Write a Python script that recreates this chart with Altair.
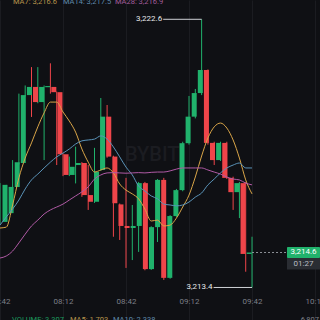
import altair as alt
import pandas as pd

# ---- 3-minute candles, 07:42 .. 09:42 ----
OPEN = [3215.65, 3215.95, 3216.85, 3217.67, 3220.00, 3220.28, 3219.76, 3220.27, 3220.28, 3220.10,
        3217.97, 3217.26, 3217.60, 3217.67, 3216.57, 3216.34, 3217.43, 3219.26, 3217.89, 3216.25,
        3215.51, 3215.44, 3215.51, 3216.98, 3214.03, 3215.47, 3217.09, 3213.73, 3215.85, 3216.74,
        3218.35, 3219.26, 3220.07, 3220.86, 3218.36, 3217.77, 3218.36, 3217.16, 3216.67, 3216.98,
        3214.55]
HIGH = [3216.98, 3216.92, 3217.77, 3220.05, 3220.33, 3220.96, 3220.96, 3220.33, 3221.09, 3220.12,
        3218.00, 3217.89, 3218.23, 3217.70, 3217.60, 3218.19, 3219.90, 3219.66, 3217.92, 3216.28,
        3217.16, 3216.23, 3217.02, 3217.02, 3215.50, 3217.12, 3217.16, 3215.88, 3216.78, 3218.40,
        3219.97, 3220.21, 3222.60, 3220.88, 3218.40, 3218.40, 3218.40, 3217.20, 3217.02, 3217.02,
        3215.14]
LOW = [3215.58, 3215.90, 3216.80, 3217.62, 3219.95, 3219.25, 3219.72, 3217.77, 3220.05, 3217.60,
       3217.22, 3217.22, 3216.97, 3216.51, 3216.06, 3216.30, 3217.40, 3217.85, 3215.14, 3215.03,
       3214.07, 3214.34, 3214.62, 3213.99, 3214.00, 3214.96, 3213.66, 3213.70, 3215.82, 3216.70,
       3218.30, 3219.20, 3220.00, 3218.30, 3217.60, 3217.74, 3217.12, 3216.06, 3215.78, 3213.94,
       3213.40]
CLOSE = [3216.92, 3216.85, 3217.70, 3220.00, 3220.28, 3219.76, 3220.28, 3220.31, 3220.10, 3217.97,
         3217.26, 3217.54, 3217.67, 3216.57, 3216.34, 3217.37, 3219.26, 3217.89, 3216.29, 3215.51,
         3215.44, 3215.51, 3216.98, 3214.03, 3215.47, 3217.09, 3213.73, 3215.85, 3216.74, 3218.35,
         3219.26, 3220.07, 3220.86, 3218.36, 3217.77, 3218.36, 3217.16, 3216.67, 3216.98, 3214.55,
         3214.60]
MA7 = [3215.44, 3215.47, 3216.23, 3217.16, 3217.84, 3218.36, 3218.91, 3219.39, 3219.76, 3219.76,
       3219.42, 3219.11, 3218.73, 3218.15, 3217.70, 3217.36, 3217.43, 3217.50, 3217.33, 3216.95,
       3216.74, 3216.61, 3216.44, 3216.09, 3215.68, 3215.71, 3215.51, 3215.54, 3215.78, 3216.16,
       3216.57, 3217.19, 3217.91, 3218.53, 3218.91, 3219.04, 3218.87, 3218.46, 3217.84, 3217.09,
       3216.61]
MA14 = [3215.54, 3215.82, 3216.09, 3216.40, 3216.78, 3217.09, 3217.29, 3217.50, 3217.70, 3217.88,
        3218.01, 3218.15, 3218.32, 3218.43, 3218.46, 3218.49, 3218.60, 3218.49, 3218.22, 3217.88,
        3217.53, 3217.26, 3216.88, 3216.71, 3216.54, 3216.44, 3216.26, 3216.23, 3216.20, 3216.23,
        3216.33, 3216.50, 3216.64, 3216.92, 3217.12, 3217.33, 3217.50, 3217.60, 3217.67, 3217.50,
        3217.50]
MA28 = [3214.41, 3214.48, 3214.65, 3214.93, 3215.23, 3215.51, 3215.71, 3215.92, 3216.06, 3216.16,
        3216.26, 3216.40, 3216.54, 3216.68, 3216.85, 3217.12, 3217.26, 3217.33, 3217.34, 3217.33,
        3217.32, 3217.33, 3217.34, 3217.33, 3217.35, 3217.36, 3217.36, 3217.40, 3217.46, 3217.50,
        3217.50, 3217.50, 3217.50, 3217.43, 3217.36, 3217.29, 3217.19, 3217.12, 3217.09, 3216.98,
        3216.92]

TIME_LABELS = ["07:42", "08:12", "08:42", "09:12", "09:42", "10:12"]
TIME_TICK_IDX = [0, 10, 20, 30, 40, 50]
PRICE_TICKS = [3213.4, 3215.7, 3218.0, 3220.3, 3222.6]

HEADER = [("MA7: 3,216.6", "#b8954c"), ("MA14: 3,217.5", "#5f8aab"), ("MA28: 3,216.9", "#a45d9b")]
VOLUME_ROW = [("VOLUME: 3.307", "#1c9a5e"), ("MA5: 1.703", "#b8954c"), ("MA10: 2.338", "#5f8aab")]
VOL_AXIS_LABEL = "6,807"
COUNTDOWN = "01:27"

# ---- style ----
BG = "#0f1014"
GRID = "#1b1c21"
GREEN = "#20b26c"
RED = "#ef454a"
LABEL = "#7c7f87"
FONT = "Roboto"

n = len(OPEN)
idx = list(range(n))
candles = pd.DataFrame({"i": idx, "open": OPEN, "high": HIGH, "low": LOW, "close": CLOSE})

xs = alt.Scale(domain=[0, 50.79], nice=False, zero=False)
ys = alt.Scale(domain=[3212.284, 3223.262], nice=False, zero=False)
px = alt.Scale(domain=[0, 320], range=[0, 320])
dir_color = alt.Color("dir:N", scale=alt.Scale(domain=["up", "down"], range=[GREEN, RED]), legend=None)

label_expr = "[" + ",".join("'%s'" % t for t in TIME_LABELS) + "][round(datum.value/10)]"

base = alt.Chart(candles).transform_calculate(
    dir="datum.close >= datum.open ? 'up' : 'down'"
)

wicks = base.mark_rule(strokeWidth=1).encode(
    x=alt.X("i:Q", scale=xs, axis=alt.Axis(
        values=TIME_TICK_IDX, labelExpr=label_expr, grid=True, gridColor=GRID, domain=False,
        ticks=False, tickSize=0, labelPadding=-19, labelBaseline="middle", labelFlush=False,
        labelColor=LABEL, labelFontSize=8, labelFont=FONT, title=None, orient="bottom")),
    y=alt.Y("low:Q", scale=ys, axis=alt.Axis(
        values=PRICE_TICKS, format=",.1f", orient="right", grid=True, gridColor=GRID,
        domain=False, ticks=False, tickSize=0, labelAlign="right", labelPadding=-1,
        labelBaseline="middle", labelFlush=False, labelColor=LABEL, labelFontSize=8,
        labelFont=FONT, title=None)),
    y2="high:Q",
    color=dir_color,
)

bodies = base.mark_bar(size=5).encode(
    x=alt.X("i:Q", scale=xs, axis=None),
    y=alt.Y("open:Q", scale=ys, axis=None),
    y2="close:Q",
    color=dir_color,
)

def ma_line(vals, color):
    df = pd.DataFrame({"i": idx, "v": vals})
    return alt.Chart(df).mark_line(strokeWidth=1, color=color, interpolate="monotone").encode(
        x=alt.X("i:Q", scale=xs, axis=None), y=alt.Y("v:Q", scale=ys, axis=None))

lines = [ma_line(MA7, "#d9a548"), ma_line(MA14, "#5a93b8"), ma_line(MA28, "#b05aa5")]

# watermark
wm = alt.Chart(pd.DataFrame({"t": ["BYBIT"]})).mark_text(
    fontSize=20, fontWeight=500, color="#1b1c21", font=FONT, align="left", baseline="middle"
).encode(x=alt.value(125), y=alt.value(155), text="t:N")

# header & volume row
hdr_df = pd.DataFrame({"t": [h[0] for h in HEADER], "c": [h[1] for h in HEADER], "x": [13, 63, 115]})
header = alt.Chart(hdr_df).mark_text(align="left", baseline="alphabetic", fontSize=7.5, font=FONT).encode(
    x=alt.X("x:Q", scale=px, axis=None),
    y=alt.value(4), text="t:N", color=alt.Color("c:N", scale=None))
vol_df = pd.DataFrame({"t": [v[0] for v in VOLUME_ROW], "c": [v[1] for v in VOLUME_ROW], "x": [12, 70, 113]})
volrow = alt.Chart(vol_df).mark_text(align="left", baseline="alphabetic", fontSize=7.5, font=FONT).encode(
    x=alt.X("x:Q", scale=px, axis=None),
    y=alt.value(322), text="t:N", color=alt.Color("c:N", scale=None))
volax = alt.Chart(pd.DataFrame({"t": [VOL_AXIS_LABEL]})).mark_text(
    align="right", baseline="alphabetic", fontSize=7.5, font=FONT, color=LABEL
).encode(x=alt.value(319), y=alt.value(322), text="t:N")

# high / low markers
hi_i = max(range(n), key=lambda k: HIGH[k])
lo_i = min(range(n), key=lambda k: LOW[k])
SPAN = 6.1
marks_df = pd.DataFrame({"i": [hi_i, lo_i], "p": [HIGH[hi_i], LOW[lo_i]]})
mk = alt.Chart(marks_df).transform_calculate(i0=f"datum.i - {SPAN}")
mk_rule = mk.mark_rule(strokeWidth=1, color="#cfd2d6").encode(
    x=alt.X("i0:Q", scale=xs, axis=None), x2="i:Q", y=alt.Y("p:Q", scale=ys, axis=None))
mk_text = mk.mark_text(align="right", baseline="middle", fontSize=8, font=FONT, color="#e6e8ea", dx=-1).encode(
    x=alt.X("i0:Q", scale=xs, axis=None), y=alt.Y("p:Q", scale=ys, axis=None),
    text=alt.Text("p:Q", format=",.1f"))

# last price line and tag
last_df = pd.DataFrame({"i": [n - 1], "p": [CLOSE[-1]], "cd": [COUNTDOWN]})
last = alt.Chart(last_df).transform_calculate(
    top="datum.p + 0.19", bot="datum.p - 0.19", cbot="datum.p - 0.58", cmid="datum.p - 0.385")
last_line = last.mark_rule(strokeWidth=1, color="#8d9198", strokeDash=[2, 2]).encode(
    x=alt.X("i:Q", scale=xs, axis=None), x2=alt.value(287), y=alt.Y("p:Q", scale=ys, axis=None))
tag = last.mark_rect(color=GREEN, cornerRadius=1).encode(
    x=alt.value(287), x2=alt.value(320), y=alt.Y("top:Q", scale=ys, axis=None), y2="bot:Q")
tag_txt = last.mark_text(color="#ffffff", fontSize=8, font=FONT, baseline="middle").encode(
    x=alt.value(303.5), y=alt.Y("p:Q", scale=ys, axis=None), text=alt.Text("p:Q", format=",.1f"))
cd = last.mark_rect(color="#2a2d33").encode(
    x=alt.value(287), x2=alt.value(320), y=alt.Y("bot:Q", scale=ys, axis=None), y2="cbot:Q")
cd_txt = last.mark_text(color="#b9bdc4", fontSize=8, font=FONT, baseline="middle").encode(
    x=alt.value(303.5), y=alt.Y("cmid:Q", scale=ys, axis=None), text="cd:N")

chart = alt.layer(
    wm, wicks, bodies, *lines, mk_rule, mk_text, last_line, tag, tag_txt, cd, cd_txt,
    header, volrow, volax
).resolve_scale(x="independent").properties(
    width=320, height=320, padding=0, background=BG,
    autosize=alt.AutoSizeParams(type="none")
).configure_view(stroke=None)

chart.save("out.html", embed_options={"renderer": "svg", "actions": False})
